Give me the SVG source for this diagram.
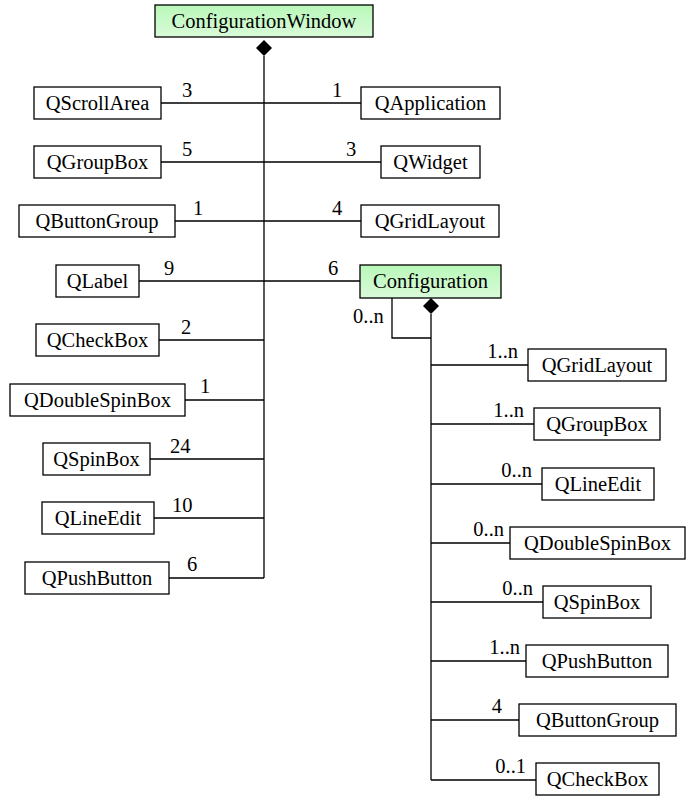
<svg xmlns="http://www.w3.org/2000/svg" width="698" height="803" viewBox="0 0 698 803">
<style>
.b{fill:#fff;stroke:#000;stroke-width:1.3}
.g{fill:url(#gr);stroke:#000;stroke-width:1.3}
text{font-family:'Liberation Serif','Times New Roman','DejaVu Serif',serif;font-size:20.5px;fill:#000}
.n{text-anchor:middle}
.l{stroke:#000;stroke-width:1.3;fill:none}
</style>
<defs><linearGradient id="gr" x1="0" y1="0" x2="0" y2="1"><stop offset="0" stop-color="#b9f7b9"/><stop offset="1" stop-color="#d9fbd9"/></linearGradient></defs>
<g id="connectors">
<path class="l" d="M264 56V578M161 103H361M161 162H381M175 221H361M139 281H360M159 340H264M185 400H264M150 459H264M154 518H264M169 578H264"/>
<polygon points="264,40 272,48 264,56 256,48"/>
<path class="l" d="M431 314V780M392 298V338H431M431 365H528M431 424H534M431 484H542M431 543H510M431 602H543M431 661H526M431 720H519M431 780H536"/>
<polygon points="431,298 439,306 431,314 423,306"/>
<g style="font-size:19px">
<text x="182" y="97">3</text><text x="332" y="97">1</text>
<text x="182" y="156">5</text><text x="346" y="156">3</text>
<text x="193" y="215">1</text><text x="332" y="215">4</text>
<text x="164" y="275">9</text><text x="328" y="275">6</text>
<text x="181" y="334">2</text><text x="200" y="393">1</text>
<text x="170" y="453">24</text><text x="172" y="512">10</text><text x="187" y="571">6</text>
<text x="353" y="323">0..n</text>
</g>
<g style="text-anchor:end;font-size:19px">
<text x="518" y="358">1..n</text><text x="524" y="417">1..n</text><text x="532" y="477">0..n</text>
<text x="504" y="536">0..n</text><text x="533" y="595">0..n</text><text x="520" y="654">1..n</text>
<text x="502" y="713">4</text><text x="526" y="773">0..1</text>
</g>
</g>
<g id="ConfigurationWindow"><rect class="g" x="155" y="5" width="218" height="32"/><text class="n" x="264" y="28">ConfigurationWindow</text></g>
<g id="QScrollArea"><rect class="b" x="34" y="87" width="127" height="32"/><text class="n" x="97.5" y="110">QScrollArea</text></g>
<g id="QGroupBox"><rect class="b" x="34" y="146" width="127" height="32"/><text class="n" x="97.5" y="169">QGroupBox</text></g>
<g id="QButtonGroup"><rect class="b" x="19" y="205" width="156" height="32"/><text class="n" x="97" y="228">QButtonGroup</text></g>
<g id="QLabel"><rect class="b" x="56" y="265" width="83" height="32"/><text class="n" x="97.5" y="288">QLabel</text></g>
<g id="QCheckBox"><rect class="b" x="36" y="324" width="123" height="32"/><text class="n" x="97.5" y="347">QCheckBox</text></g>
<g id="QDoubleSpinBox"><rect class="b" x="10" y="384" width="175" height="32"/><text class="n" x="97.5" y="407">QDoubleSpinBox</text></g>
<g id="QSpinBox"><rect class="b" x="43" y="443" width="107" height="32"/><text class="n" x="96.5" y="466">QSpinBox</text></g>
<g id="QLineEdit"><rect class="b" x="42" y="502" width="112" height="32"/><text class="n" x="98" y="525">QLineEdit</text></g>
<g id="QPushButton"><rect class="b" x="25" y="562" width="144" height="32"/><text class="n" x="97" y="585">QPushButton</text></g>
<g id="QApplication"><rect class="b" x="361" y="87" width="139" height="32"/><text class="n" x="430.5" y="110">QApplication</text></g>
<g id="QWidget"><rect class="b" x="381" y="146" width="99" height="32"/><text class="n" x="430.5" y="169">QWidget</text></g>
<g id="QGridLayout"><rect class="b" x="361" y="205" width="138" height="32"/><text class="n" x="430" y="228">QGridLayout</text></g>
<g id="Configuration"><rect class="g" x="360" y="265" width="141" height="33"/><text class="n" x="430.5" y="288">Configuration</text></g>
<g id="QGridLayout2"><rect class="b" x="528" y="349" width="138" height="32"/><text class="n" x="597" y="372">QGridLayout</text></g>
<g id="QGroupBox2"><rect class="b" x="534" y="408" width="126" height="32"/><text class="n" x="597" y="431">QGroupBox</text></g>
<g id="QLineEdit2"><rect class="b" x="542" y="468" width="112" height="32"/><text class="n" x="598" y="491">QLineEdit</text></g>
<g id="QDoubleSpinBox2"><rect class="b" x="510" y="527" width="175" height="32"/><text class="n" x="597.5" y="550">QDoubleSpinBox</text></g>
<g id="QSpinBox2"><rect class="b" x="543" y="586" width="108" height="32"/><text class="n" x="597" y="609">QSpinBox</text></g>
<g id="QPushButton2"><rect class="b" x="526" y="645" width="142" height="32"/><text class="n" x="597" y="668">QPushButton</text></g>
<g id="QButtonGroup2"><rect class="b" x="519" y="704" width="157" height="32"/><text class="n" x="597.5" y="727">QButtonGroup</text></g>
<g id="QCheckBox2"><rect class="b" x="536" y="763" width="123" height="32"/><text class="n" x="597.5" y="786">QCheckBox</text></g>
</svg>
